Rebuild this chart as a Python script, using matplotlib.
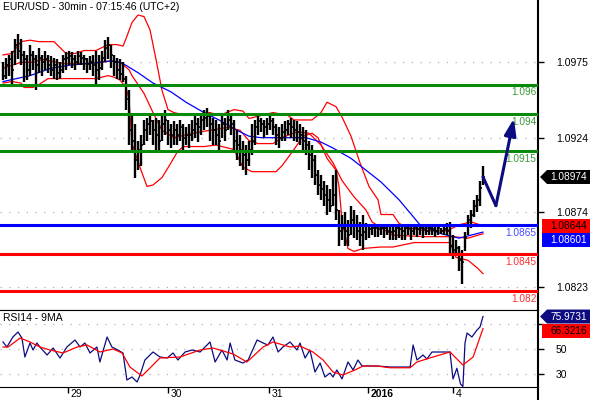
import matplotlib
matplotlib.use("Agg")
import matplotlib.pyplot as plt
import numpy as np
from matplotlib.patches import Polygon
from matplotlib.lines import Line2D

plt.rcParams["font.family"] = ["Liberation Sans", "DejaVu Sans"]

# ---- price bars (30 min) ----
highs = [
    1.0975, 1.0978, 1.0980, 1.0983, 1.0991, 1.0994, 1.0991, 1.0983, 1.0980, 1.0987,
    1.0983, 1.0980, 1.0985, 1.0980, 1.0983, 1.0980, 1.0979, 1.0978, 1.0977, 1.0975,
    1.0980, 1.0982, 1.0983, 1.0982, 1.0980, 1.0983, 1.0982, 1.0980, 1.0978, 1.0979,
    1.0980, 1.0983, 1.0980, 1.0983, 1.0990, 1.0992, 1.0987, 1.0980, 1.0978, 1.0977,
    1.0975, 1.0966, 1.0956, 1.0939, 1.0933, 1.0922, 1.0926, 1.0936, 1.0937, 1.0939,
    1.0936, 1.0937, 1.0936, 1.0939, 1.0943, 1.0936, 1.0933, 1.0935, 1.0933, 1.0936,
    1.0933, 1.0931, 1.0933, 1.0936, 1.0939, 1.0937, 1.0941, 1.0943, 1.0944, 1.0939,
    1.0937, 1.0936, 1.0933, 1.0939, 1.0937, 1.0943, 1.0941, 1.0936, 1.0929, 1.0926,
    1.0922, 1.0919, 1.0922, 1.0933, 1.0936, 1.0939, 1.0937, 1.0936, 1.0937, 1.0939,
    1.0937, 1.0933, 1.0931, 1.0933, 1.0935, 1.0936, 1.0937, 1.0936, 1.0935, 1.0933,
    1.0931, 1.0929, 1.0922, 1.0919, 1.0912, 1.0902, 1.0899, 1.0895, 1.0892, 1.0889,
    1.0899, 1.0902, 1.0875, 1.0872, 1.0874, 1.0868, 1.0878, 1.0875, 1.0872, 1.0867,
    1.0872, 1.0866, 1.0864, 1.0865, 1.0864, 1.0864, 1.0864, 1.0864, 1.0864, 1.0864,
    1.0864, 1.0864, 1.0864, 1.0864, 1.0864, 1.0864, 1.0864, 1.0865, 1.0864, 1.0864,
    1.0864, 1.0864, 1.0864, 1.0864, 1.0864, 1.0864, 1.0863, 1.0864, 1.0866, 1.0867,
    1.0858, 1.0855, 1.0851, 1.0848, 1.0860, 1.0872, 1.0875, 1.0882, 1.0885, 1.0895,
    1.0905,
]
lows = [
    1.0963, 1.0964, 1.0966, 1.0958, 1.0973, 1.0977, 1.0973, 1.0962, 1.0963, 1.0966,
    1.0970, 1.0956, 1.0968, 1.0966, 1.0970, 1.0968, 1.0966, 1.0964, 1.0963, 1.0964,
    1.0968, 1.0970, 1.0973, 1.0971, 1.0970, 1.0973, 1.0973, 1.0970, 1.0968, 1.0970,
    1.0966, 1.0960, 1.0963, 1.0970, 1.0975, 1.0977, 1.0971, 1.0966, 1.0964, 1.0963,
    1.0962, 1.0943, 1.0919, 1.0916, 1.0897, 1.0902, 1.0905, 1.0919, 1.0922, 1.0926,
    1.0919, 1.0916, 1.0916, 1.0922, 1.0926, 1.0919, 1.0917, 1.0919, 1.0919, 1.0922,
    1.0916, 1.0919, 1.0917, 1.0922, 1.0924, 1.0921, 1.0926, 1.0929, 1.0931, 1.0922,
    1.0919, 1.0919, 1.0916, 1.0924, 1.0922, 1.0929, 1.0926, 1.0916, 1.0909, 1.0905,
    1.0902, 1.0899, 1.0905, 1.0912, 1.0919, 1.0926, 1.0928, 1.0924, 1.0926, 1.0929,
    1.0926, 1.0919, 1.0917, 1.0922, 1.0922, 1.0926, 1.0924, 1.0922, 1.0921, 1.0919,
    1.0914, 1.0912, 1.0902, 1.0897, 1.0892, 1.0885, 1.0882, 1.0878, 1.0872, 1.0874,
    1.0878, 1.0868, 1.0851, 1.0855, 1.0851, 1.0851, 1.0858, 1.0856, 1.0855, 1.0851,
    1.0848, 1.0855, 1.0856, 1.0858, 1.0857, 1.0857, 1.0858, 1.0856, 1.0858, 1.0855,
    1.0855, 1.0855, 1.0856, 1.0855, 1.0855, 1.0858, 1.0855, 1.0858, 1.0857, 1.0858,
    1.0856, 1.0858, 1.0858, 1.0858, 1.0857, 1.0858, 1.0859, 1.0858, 1.0858, 1.0844,
    1.0842, 1.0844, 1.0834, 1.0825, 1.0847, 1.0858, 1.0863, 1.0870, 1.0874, 1.0878,
    1.0892,
]
closes = [
    1.0966, 1.0973, 1.0977, 1.0970, 1.0987, 1.0983, 1.0980, 1.0977, 1.0970, 1.0980,
    1.0977, 1.0973, 1.0978, 1.0975, 1.0977, 1.0973, 1.0970, 1.0973, 1.0968, 1.0970,
    1.0977, 1.0978, 1.0979, 1.0977, 1.0975, 1.0979, 1.0978, 1.0977, 1.0974, 1.0975,
    1.0973, 1.0970, 1.0971, 1.0978, 1.0985, 1.0987, 1.0980, 1.0975, 1.0970, 1.0967,
    1.0964, 1.0950, 1.0929, 1.0922, 1.0909, 1.0916, 1.0919, 1.0929, 1.0933, 1.0935,
    1.0929, 1.0926, 1.0922, 1.0933, 1.0936, 1.0929, 1.0926, 1.0929, 1.0926, 1.0931,
    1.0924, 1.0926, 1.0926, 1.0929, 1.0933, 1.0931, 1.0936, 1.0937, 1.0939, 1.0933,
    1.0929, 1.0926, 1.0922, 1.0933, 1.0929, 1.0936, 1.0933, 1.0922, 1.0919, 1.0916,
    1.0912, 1.0909, 1.0916, 1.0922, 1.0931, 1.0935, 1.0933, 1.0931, 1.0933, 1.0935,
    1.0931, 1.0926, 1.0924, 1.0928, 1.0929, 1.0933, 1.0931, 1.0929, 1.0928, 1.0926,
    1.0922, 1.0919, 1.0912, 1.0909, 1.0899, 1.0892, 1.0889, 1.0885, 1.0882, 1.0878,
    1.0885, 1.0875, 1.0861, 1.0863, 1.0861, 1.0858, 1.0868, 1.0864, 1.0861, 1.0858,
    1.0860, 1.0864, 1.0862, 1.0863, 1.0863, 1.0862, 1.0863, 1.0863, 1.0861, 1.0860,
    1.0861, 1.0863, 1.0862, 1.0861, 1.0863, 1.0862, 1.0861, 1.0863, 1.0862, 1.0863,
    1.0862, 1.0861, 1.0863, 1.0862, 1.0861, 1.0863, 1.0861, 1.0862, 1.0861, 1.0851,
    1.0848, 1.0849, 1.0841, 1.0840, 1.0856, 1.0868, 1.0872, 1.0878, 1.0882, 1.0890,
    1.08974,
]

# ---- bollinger bands and moving average (bar index, price) ----
upper_x = [1, 4, 7, 10, 13, 18, 20, 22, 25, 28, 32, 36, 39, 41, 42, 44, 46, 48, 50, 52,
           54, 56, 58, 62, 70, 73, 78, 81, 83, 87, 91, 96, 98, 104, 107, 109, 112, 114,
           117, 120, 123, 126, 127, 131, 133, 136, 142, 149, 153, 157, 161]
upper = [1.0980, 1.0981, 1.0989, 1.0990, 1.0989, 1.0989, 1.0985, 1.0981, 1.0981, 1.0983,
         1.0983, 1.0987, 1.0987, 1.0986, 1.0991, 1.1002, 1.1007, 1.1006, 1.0997, 1.0977,
         1.0956, 1.0943, 1.0941, 1.0939, 1.0941, 1.0939, 1.0943, 1.0942, 1.0937, 1.0939,
         1.0941, 1.0939, 1.0936, 1.0936, 1.0941, 1.0948, 1.0945, 1.0938, 1.0925, 1.0907,
         1.0891, 1.0882, 1.0872, 1.0872, 1.0866, 1.0863, 1.0861, 1.0861, 1.0865, 1.0867,
         1.08644]
mid_x = [1, 7, 11, 14, 19, 22, 29, 34, 37, 40, 43, 44, 48, 51, 54, 58, 62, 67, 70, 76,
         80, 83, 86, 91, 94, 99, 103, 107, 111, 114, 118, 122, 124, 127, 131, 142, 151,
         156, 161]
mid = [1.0971, 1.0975, 1.0975, 1.0977, 1.0975, 1.0974, 1.0974, 1.0975, 1.0976, 1.0975,
       1.0970, 1.0966, 1.0954, 1.0941, 1.0929, 1.0924, 1.0926, 1.0928, 1.0929, 1.0931,
       1.0929, 1.0922, 1.0920, 1.0920, 1.0924, 1.0928, 1.0927, 1.0919, 1.0907, 1.0895,
       1.0884, 1.0875, 1.0867, 1.0863, 1.0858, 1.0857, 1.0857, 1.0856, 1.0859]
lower_x = [1, 4, 7, 8, 11, 13, 16, 21, 27, 32, 36, 38, 40, 42, 43, 44, 47, 49, 51, 54,
           57, 59, 61, 68, 72, 78, 81, 84, 92, 94, 98, 101, 104, 106, 109, 112, 113, 114,
           116, 118, 121, 127, 131, 138, 150, 152, 156, 159, 161]
lower = [1.0961, 1.0962, 1.0961, 1.0958, 1.0958, 1.0960, 1.0964, 1.0964, 1.0964, 1.0964,
         1.0966, 1.0965, 1.0963, 1.0958, 1.0950, 1.0920, 1.0902, 1.0891, 1.0892, 1.0897,
         1.0907, 1.0914, 1.0918, 1.0918, 1.0919, 1.0916, 1.0904, 1.0901, 1.0901, 1.0905,
         1.0916, 1.0925, 1.0927, 1.0924, 1.0910, 1.0902, 1.0891, 1.0868, 1.0849, 1.0847,
         1.0849, 1.0850, 1.0850, 1.0853, 1.0853, 1.0843, 1.0841, 1.0836, 1.0832]
ma_x = [1, 10, 17, 23, 33, 37, 40, 42, 46, 51, 57, 62, 68, 73, 79, 83, 87, 102, 107, 111,
        117, 122, 127, 133, 140, 147, 153, 161]
ma = [1.0962, 1.0966, 1.0971, 1.0973, 1.0975, 1.0976, 1.0975, 1.0973, 1.0968, 1.0961,
      1.0955, 1.0948, 1.0941, 1.0936, 1.0929, 1.0925, 1.0924, 1.0924, 1.0921, 1.0917,
      1.0910, 1.0902, 1.0894, 1.0882, 1.0865, 1.0859, 1.0856, 1.08601]

# ---- support / resistance levels ----
green_levels = [1.096, 1.094, 1.0915]
blue_levels = [1.0865]
red_levels = [1.0845, 1.082]
level_labels = {1.096: "1.096", 1.094: "1.094", 1.0915: "1.0915",
                1.0865: "1.0865", 1.0845: "1.0845", 1.082: "1.082"}

# projected path (bar index, price)
arrow_x = [161, 165.3, 171.3]
arrow_y = [1.08974, 1.0878, 1.0937]

price_ticks = [1.0823, 1.0874, 1.0924, 1.0975]

# ---- RSI14 and its 9 MA ----
rsi_x = [1, 2.3, 4.3, 6, 7.3, 8.3, 10, 11, 12.3, 13.3, 15.7, 17.7, 20, 22.3, 25, 26.7,
         28.3, 30, 32.3, 33.3, 35.7, 37.3, 39.3, 41, 42.3, 44, 45.7, 46.7, 48.3, 51,
         53.3, 55.7, 57.7, 59.3, 61.7, 64, 66.7, 70, 71.7, 74, 75.7, 76.7, 78.3, 81,
         82.7, 85.7, 87.7, 89.3, 91, 92.7, 94.3, 96.7, 99, 100, 101.7, 103.3, 105,
         106.7, 108.3, 110, 111, 112.3, 114, 116, 117.7, 119.3, 120.7, 125.7, 130,
         136.7, 137.7, 139, 141, 142.3, 144, 150, 151, 152.3, 153.5, 154.3, 155, 155.7,
         157.3, 159, 160, 161]
rsi = [55.6, 51.6, 59.6, 63.6, 58.8, 43.6, 54.8, 49.2, 54.8, 51.6, 45.2, 50.8, 42.8,
       51.6, 57.2, 51.6, 54.8, 46.8, 51.6, 39.6, 59.6, 51.6, 49.2, 46.8, 25.2, 27.6,
       23.6, 29.2, 41.2, 47.6, 43.6, 42.8, 46.8, 41.2, 47.6, 49.2, 47.6, 55.6, 39.6,
       49.2, 41.2, 54.8, 41.2, 38.8, 41.2, 57.2, 54.8, 53.2, 59.6, 47.6, 51.6, 55.6,
       49.2, 54.8, 42.8, 49.2, 31.6, 38.8, 27.6, 30.8, 27.6, 33.2, 26.0, 39.6, 33.2,
       41.2, 36.4, 36.4, 35.6, 35.6, 53.2, 41.2, 45.2, 42.0, 47.6, 47.6, 26.0, 34.6,
       22.0, 20.0, 54.8, 62.8, 59.6, 65.2, 67.6, 75.9731]
rsi_ma_x = [1, 2.7, 6.7, 10, 13.3, 16.7, 21, 25.7, 29, 33.3, 37.7, 40.7, 43.3, 47.3, 50,
            53.3, 60, 66.7, 71, 77.7, 82.3, 87.7, 91, 96.7, 100, 104.3, 107.7, 111,
            114.3, 118.3, 121, 125.7, 130, 136.7, 139, 144.3, 150, 154.3, 157.7, 161]
rsi_ma = [51.6, 51.6, 58.8, 55.6, 51.6, 49.2, 46.8, 51.6, 53.2, 47.6, 50.0, 46.8, 35.6,
          28.4, 34.8, 42.8, 43.6, 49.2, 50.8, 46.0, 39.6, 51.6, 55.6, 51.6, 52.4, 47.6,
          41.2, 31.6, 29.2, 33.2, 36.4, 36.4, 35.0, 35.0, 39.6, 43.6, 47.6, 37.2, 43.6,
          66.3216]
rsi_ticks = [30, 50, 70]

# day separators (bar index) and their labels
day_x = [22.7, 56, 89.7, 122.7, 151]
day_labels = ["29", "30", "31", "2016", "4"]

# ---- layout ----
W, H = 590, 400
PLOT_RIGHT = 538
NAVY = "#0c0c80"
GREEN = "#0a8a0a"
BLUE = "#0000ff"
RED = "#ff0000"

fig = plt.figure(figsize=(W / 100, H / 100), dpi=100)
ax = fig.add_axes([0, 90.5 / H, PLOT_RIGHT / W, 309.5 / H])
rsi_ax = fig.add_axes([0, 13 / H, PLOT_RIGHT / W, 77.5 / H])

x_max = PLOT_RIGHT / 3
for a in (ax, rsi_ax):
    a.set_xlim(0, x_max)
    a.spines["left"].set_visible(False)
    a.spines["right"].set_linewidth(1.5)
    a.yaxis.tick_right()
ax.set_ylim(1.08077, 1.10172)
rsi_ax.set_ylim(19.6, 81.6)
ax.spines["top"].set_visible(False)

# dotted grid
for p in price_ticks:
    ax.axhline(p, color="#b0b0b0", lw=0.9, linestyle=(0, (1, 6)), zorder=0)
for r in rsi_ticks:
    rsi_ax.axhline(r, color="#b0b0b0", lw=0.9, linestyle=(0, (1, 6)), zorder=0)

# price bars
bar_x = np.arange(1, len(highs) + 1)
ax.vlines(bar_x, lows, highs, color="black", lw=1.7, zorder=3)
ax.hlines(closes, bar_x, bar_x + 0.6, color="black", lw=1.2, zorder=3)

# indicators
ax.plot(upper_x, upper, color=RED, lw=0.9, zorder=2)
ax.plot(mid_x, mid, color=RED, lw=0.9, zorder=2)
ax.plot(lower_x, lower, color=RED, lw=0.9, zorder=2)
ax.plot(ma_x, ma, color=BLUE, lw=0.9, zorder=2)

# levels
for levels, col, tcol in [(green_levels, GREEN, "#3a9a3a"),
                          (blue_levels, BLUE, "#4a4aff"),
                          (red_levels, RED, "#ff3030")]:
    for lv in levels:
        ax.axhline(lv, color=col, lw=2.2, zorder=4)
        ax.annotate(level_labels[lv], xy=(1, lv), xycoords=("axes fraction", "data"),
                    xytext=(-1, -2), textcoords="offset points", ha="right", va="top",
                    fontsize=7.3, color=tcol, zorder=5)

# projection arrow
ax.plot(arrow_x[:2], arrow_y[:2], color=NAVY, lw=2.2, solid_capstyle="round", zorder=6)
ax.annotate("", xy=(arrow_x[2], arrow_y[2]), xytext=(arrow_x[1], arrow_y[1]),
            arrowprops=dict(arrowstyle="-|>,head_length=1.0,head_width=0.35",
                            color=NAVY, lw=2.2, shrinkA=0, shrinkB=0), zorder=6)

ax.set_xticks([])
ax.set_yticks(price_ticks)
ax.set_yticklabels([f"{p:.4f}" for p in price_ticks])
ax.tick_params(axis="y", direction="out", length=4, width=1, pad=9, labelsize=7.5)
ax.text(0.006, 0.995, "EUR/USD - 30min - 07:15:46 (UTC+2)", transform=ax.transAxes,
        ha="left", va="top", fontsize=7.5)

# RSI panel
rsi_ax.plot(rsi_x, rsi, color=NAVY, lw=0.9)
rsi_ax.plot(rsi_ma_x, rsi_ma, color=RED, lw=0.9)
rsi_ax.set_yticks(rsi_ticks)
rsi_ax.set_yticklabels(["30", "50", ""])
rsi_ax.tick_params(axis="y", direction="out", length=4, width=1, pad=9, labelsize=7.5)
rsi_ax.set_xticks(day_x)
rsi_ax.set_xticklabels([])
rsi_ax.tick_params(axis="x", direction="out", length=4, width=1)
for x, lbl in zip(day_x, day_labels):
    rsi_ax.annotate(lbl, xy=(x, 0), xycoords=("data", "axes fraction"),
                    xytext=(2, -1.5), textcoords="offset points", ha="left", va="top",
                    fontsize=7.5, fontweight="bold" if lbl == "2016" else "normal")
rsi_ax.text(0.006, 0.96, "RSI14 - 9MA", transform=rsi_ax.transAxes,
            ha="left", va="top", fontsize=7.5)

# right border continues below the panels
fig.add_artist(Line2D([PLOT_RIGHT / W] * 2, [0, 13 / H], transform=fig.transFigure,
                      color="black", lw=1.5))


def draw_tags(axis, tags, fmt):
    """Last-value tags on the right edge, stacked so they do not overlap."""
    h = 14
    prev = None
    for value, face, fg, pointed in tags:
        y = axis.transData.transform((0, value))[1]
        if prev is not None and y > prev - h:
            y = prev - h
        prev = y
        x0 = PLOT_RIGHT + 2
        if pointed:
            pts = [(x0, y), (x0 + 7, y + h / 2), (W, y + h / 2), (W, y - h / 2),
                   (x0 + 7, y - h / 2)]
        else:
            pts = [(x0 + 2, y + h / 2), (W, y + h / 2), (W, y - h / 2), (x0 + 2, y - h / 2)]
        pts = [(px / W, py / H) for px, py in pts]
        fig.add_artist(Polygon(pts, closed=True, transform=fig.transFigure,
                               facecolor=face, edgecolor="none"))
        fig.text((x0 + 7 + W) / 2 / W, y / H, fmt(value), ha="center", va="center",
                 color=fg, fontsize=7.3)


draw_tags(ax, [(closes[-1], "black", "white", True),
               (upper[-1], RED, "black", False),
               (ma[-1], BLUE, "white", False)], lambda v: f"{v:.5f}")
draw_tags(rsi_ax, [(rsi[-1], NAVY, "white", True),
                   (rsi_ma[-1], RED, "black", False)], lambda v: f"{v:.4f}")

fig.savefig("out.png", dpi=100)
